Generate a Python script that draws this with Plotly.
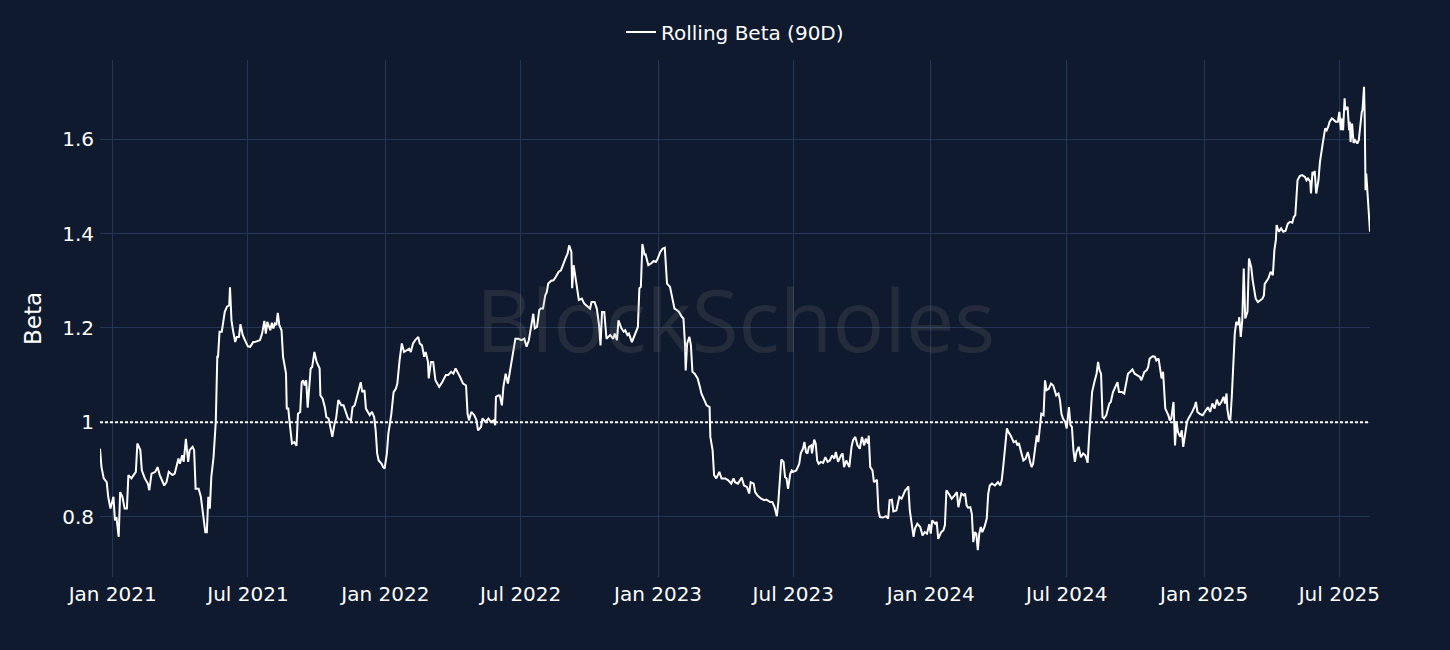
import datetime as dt
import plotly.graph_objects as go

# ---- data ----
start_date = dt.date(2020, 12, 15)

# days since start_date
day_offset = [
    # Dec 2020 - Jul 2021
    0, 2, 5, 9, 11, 14, 18, 20, 22, 25, 27, 30, 33, 36, 38, 42, 45, 48, 50, 54,
    56, 60, 64, 66, 69, 74, 77, 80, 86, 89, 92, 97, 100, 103, 105, 107, 110, 112, 115, 118,
    120, 124, 126, 128, 132, 135, 138, 141, 143, 145, 147, 149, 152, 155, 157, 158, 160, 163, 165, 167,
    170, 173, 174, 176, 178, 181, 183, 186, 188, 191, 194, 198, 201, 205,
    # Jul 2021 - Feb 2022
    207, 214, 217, 220, 222, 224, 228, 230, 232, 234, 236, 238, 240, 243, 245, 249, 250, 252, 254, 257,
    260, 263, 265, 268, 270, 272, 274, 276, 278, 280, 282, 284, 287, 290, 294, 295, 298, 301, 303, 306,
    309, 311, 314, 316, 319, 323, 326, 328, 332, 336, 338, 341, 344, 347, 349, 351, 354, 356, 359, 361,
    364, 367, 369, 371, 373, 377, 379, 381, 384, 386, 390, 393, 396, 398, 401, 404, 407, 411, 414, 416,
    419,
    # Feb 2022 - Sep 2022
    422, 426, 428, 431, 434, 436, 439, 440, 443, 446, 449, 454, 458, 463, 466, 470, 473, 476, 482, 486,
    490, 492, 494, 497, 501, 504, 506, 510, 512, 516, 520, 523, 527, 529, 530, 533, 535, 538, 540, 543,
    546, 549, 552, 556, 560, 564, 568, 571, 574, 577, 580, 582, 585, 588, 590, 593, 596, 598, 600, 604,
    607, 610, 614, 617, 620, 623, 626, 628, 631, 632, 634,
    # Sep 2022 - Apr 2023
    638, 641, 645, 648, 653, 656, 658, 662, 665, 668, 670, 672, 675, 678, 683, 687, 689, 692, 694, 696,
    698, 701, 703, 706, 708, 712, 715, 720, 722, 724, 726, 729, 730, 734, 738, 741, 744, 746, 750, 753,
    756, 759, 763, 766, 769, 772, 775, 779, 781, 783, 784, 786, 789, 791, 793, 796, 800, 803, 805, 809,
    812, 816, 817, 820, 822, 825, 829, 832, 837, 841, 845, 848,
    # Apr 2023 - Nov 2023
    850, 854, 857, 859, 862, 866, 869, 871, 875, 877, 880, 885, 889, 892, 897, 900, 903, 906, 908, 910,
    912, 915, 917, 919, 921, 924, 926, 928, 932, 936, 938, 941, 943, 945, 947, 949, 952, 953, 956, 958,
    960, 962, 965, 968, 971, 974, 977, 980, 983, 985, 988, 992, 994, 996, 999, 1003, 1006, 1008, 1011, 1014,
    1017, 1020, 1023, 1025, 1028, 1029, 1031, 1034, 1036, 1040, 1042, 1044, 1048, 1052, 1055, 1057, 1060, 1062,
    # Nov 2023 - Jun 2024
    1066, 1070, 1073, 1075, 1078, 1080, 1082, 1084, 1086, 1089, 1091, 1094, 1098, 1101, 1104, 1107, 1110, 1112, 1114, 1118,
    1120, 1122, 1126, 1129, 1131, 1133, 1136, 1140, 1144, 1147, 1149, 1151, 1153, 1156, 1158, 1160, 1162, 1165, 1167, 1169,
    1171, 1173, 1175, 1177, 1179, 1181, 1184, 1187, 1189, 1191, 1194, 1198, 1202, 1205, 1207, 1209, 1211, 1214, 1216, 1219,
    1223, 1226, 1228, 1230, 1233, 1236, 1239, 1242, 1245, 1247, 1249, 1252, 1254, 1256, 1258, 1260, 1263, 1265, 1267, 1270,
    1273, 1276,
    # Jun 2024 - Dec 2024
    1280, 1283, 1285, 1287, 1289, 1292, 1294, 1297, 1299, 1301, 1303, 1305, 1307, 1310, 1313, 1316, 1319, 1322, 1324, 1326,
    1328, 1331, 1333, 1334, 1336, 1338, 1340, 1342, 1344, 1347, 1351, 1353, 1356, 1359, 1362, 1364, 1368, 1371, 1373, 1376,
    1379, 1382, 1385, 1389, 1392, 1394, 1398, 1401, 1403, 1405, 1409, 1412, 1414, 1417, 1419, 1421, 1423, 1426, 1428, 1430,
    1432, 1434, 1437, 1439, 1441, 1443, 1446, 1448, 1450, 1452, 1455, 1457, 1460, 1462, 1465, 1467, 1469, 1472, 1476,
    # Jan 2025 - Aug 2025
    1483, 1486, 1489, 1492, 1495, 1498, 1501, 1504, 1506, 1508, 1509, 1511, 1513, 1515, 1517, 1519, 1521, 1524, 1525, 1527,
    1529, 1531, 1533, 1535, 1536, 1538, 1541, 1543, 1545, 1547, 1550, 1553, 1556, 1558, 1559, 1564, 1567, 1570, 1572, 1574,
    1575, 1578, 1581, 1584, 1587, 1590, 1593, 1596, 1598, 1600, 1603, 1606, 1609, 1613, 1615, 1617, 1620, 1621, 1623, 1625,
    1626, 1628, 1631, 1633, 1635, 1637, 1640, 1642, 1644, 1646, 1649, 1651, 1654, 1657, 1659, 1661, 1662, 1664, 1666, 1667,
    1670, 1672, 1673, 1674, 1676, 1678, 1680, 1683, 1685, 1687, 1689, 1690, 1692, 1693, 1694, 1695, 1697, 1699, 1700,
]

beta = [
    # Dec 2020 - Jul 2021
    0.944, 0.905, 0.881, 0.873, 0.842, 0.817, 0.842, 0.792, 0.799, 0.757, 0.852, 0.842, 0.817, 0.817, 0.888, 0.881, 0.888, 0.895, 0.955, 0.941,
    0.898, 0.881, 0.870, 0.856, 0.891, 0.895, 0.905, 0.888, 0.866, 0.873, 0.895, 0.888, 0.891, 0.912, 0.923, 0.912, 0.930, 0.916, 0.965, 0.916,
    0.941, 0.948, 0.941, 0.859, 0.859, 0.842, 0.799, 0.767, 0.767, 0.842, 0.817, 0.884, 0.926, 1.001, 1.139, 1.139, 1.192, 1.192, 1.213, 1.234,
    1.245, 1.248, 1.286, 1.216, 1.195, 1.170, 1.181, 1.181, 1.208, 1.185, 1.174, 1.161, 1.160, 1.170,
    # Jul 2021 - Feb 2022
    1.170, 1.174, 1.188, 1.215, 1.188, 1.213, 1.195, 1.211, 1.199, 1.209, 1.206, 1.232, 1.206, 1.195, 1.139, 1.103, 1.029, 1.029, 0.997, 0.955,
    0.958, 0.950, 1.018, 1.022, 1.085, 1.089, 1.078, 1.089, 1.031, 1.082, 1.114, 1.117, 1.149, 1.128, 1.114, 1.057, 1.050, 1.032, 1.011, 1.008,
    0.987, 0.969, 0.997, 1.008, 1.047, 1.036, 1.036, 1.025, 1.008, 1.004, 1.032, 1.036, 1.054, 1.068, 1.085, 1.064, 1.068, 1.029, 1.022, 1.015,
    1.022, 1.011, 0.983, 0.934, 0.919, 0.912, 0.905, 0.902, 0.934, 0.976, 1.018, 1.064, 1.071, 1.082, 1.131, 1.167, 1.149, 1.153, 1.156, 1.149,
    1.167,
    # Feb 2022 - Sep 2022
    1.174, 1.181, 1.167, 1.163, 1.139, 1.149, 1.128, 1.093, 1.128, 1.128, 1.089, 1.075, 1.085, 1.100, 1.100, 1.107, 1.103, 1.114, 1.096, 1.082,
    1.078, 1.018, 1.004, 1.022, 1.015, 1.004, 0.983, 0.990, 1.008, 1.001, 1.008, 1.001, 1.004, 0.994, 1.054, 1.057, 1.057, 1.036, 1.075, 1.103,
    1.082, 1.110, 1.146, 1.177, 1.177, 1.174, 1.177, 1.160, 1.174, 1.199, 1.230, 1.199, 1.202, 1.238, 1.241, 1.241, 1.269, 1.276, 1.294, 1.300,
    1.301, 1.308, 1.319, 1.322, 1.337, 1.347, 1.358, 1.375, 1.361, 1.284, 1.333,
    # Sep 2022 - Apr 2023
    1.294, 1.259, 1.262, 1.252, 1.245, 1.241, 1.255, 1.255, 1.241, 1.206, 1.163, 1.234, 1.234, 1.177, 1.185, 1.177, 1.188, 1.174, 1.216, 1.206,
    1.199, 1.192, 1.195, 1.185, 1.188, 1.170, 1.181, 1.202, 1.284, 1.287, 1.378, 1.354, 1.358, 1.333, 1.337, 1.342, 1.340, 1.345, 1.361, 1.368,
    1.370, 1.294, 1.287, 1.262, 1.241, 1.238, 1.234, 1.223, 1.220, 1.167, 1.110, 1.167, 1.181, 1.163, 1.107, 1.103, 1.093, 1.075, 1.061, 1.047,
    1.036, 1.032, 0.969, 0.941, 0.888, 0.881, 0.895, 0.881, 0.881, 0.877, 0.870, 0.881,
    # Apr 2023 - Nov 2023
    0.873, 0.870, 0.877, 0.883, 0.866, 0.863, 0.849, 0.873, 0.870, 0.852, 0.845, 0.838, 0.835, 0.836, 0.831, 0.831, 0.820, 0.801, 0.831, 0.877,
    0.921, 0.916, 0.884, 0.881, 0.859, 0.891, 0.898, 0.895, 0.898, 0.912, 0.934, 0.944, 0.958, 0.937, 0.934, 0.948, 0.951, 0.934, 0.963, 0.955,
    0.919, 0.912, 0.916, 0.914, 0.926, 0.916, 0.919, 0.930, 0.923, 0.937, 0.916, 0.930, 0.934, 0.905, 0.919, 0.905, 0.948, 0.962, 0.969, 0.951,
    0.944, 0.969, 0.951, 0.965, 0.955, 0.972, 0.905, 0.898, 0.873, 0.878, 0.813, 0.799, 0.798, 0.801, 0.796, 0.835, 0.836, 0.811,
    # Nov 2023 - Jun 2024
    0.813, 0.842, 0.838, 0.845, 0.856, 0.859, 0.864, 0.813, 0.785, 0.757, 0.775, 0.785, 0.778, 0.760, 0.767, 0.764, 0.784, 0.764, 0.792, 0.785,
    0.789, 0.753, 0.767, 0.771, 0.782, 0.856, 0.849, 0.838, 0.845, 0.852, 0.820, 0.835, 0.849, 0.845, 0.849, 0.824, 0.819, 0.820, 0.806, 0.746,
    0.767, 0.764, 0.729, 0.764, 0.778, 0.767, 0.778, 0.796, 0.849, 0.866, 0.870, 0.866, 0.873, 0.866, 0.877, 0.905, 0.941, 0.987, 0.979, 0.972,
    0.958, 0.960, 0.951, 0.956, 0.937, 0.919, 0.923, 0.937, 0.916, 0.905, 0.912, 0.955, 0.972, 0.958, 0.983, 1.018, 1.015, 1.089, 1.068, 1.071,
    1.082, 1.078,
    # Jun 2024 - Dec 2024
    1.057, 1.061, 1.047, 1.018, 1.008, 1.001, 0.987, 1.032, 0.994, 0.990, 0.941, 0.916, 0.937, 0.948, 0.926, 0.934, 0.930, 0.914, 0.969, 1.025,
    1.064, 1.085, 1.096, 1.103, 1.128, 1.110, 1.103, 1.011, 1.008, 1.015, 1.040, 1.043, 1.064, 1.075, 1.085, 1.064, 1.064, 1.061, 1.082, 1.103,
    1.107, 1.112, 1.103, 1.100, 1.096, 1.089, 1.107, 1.110, 1.117, 1.135, 1.140, 1.139, 1.131, 1.135, 1.114, 1.093, 1.107, 1.029, 1.022, 1.015,
    1.004, 1.008, 1.043, 0.951, 1.001, 0.979, 0.969, 0.983, 0.948, 0.972, 1.001, 1.008, 1.015, 1.022, 1.032, 1.043, 1.022, 1.018, 1.015,
    # Jan 2025 - Aug 2025
    1.032, 1.022, 1.040, 1.029, 1.048, 1.036, 1.043, 1.054, 1.040, 1.061, 1.029, 1.008, 1.004, 1.054, 1.139, 1.188, 1.213, 1.206, 1.223, 1.181,
    1.216, 1.326, 1.220, 1.230, 1.234, 1.347, 1.329, 1.301, 1.284, 1.262, 1.255, 1.259, 1.262, 1.269, 1.293, 1.305, 1.319, 1.312, 1.365, 1.386,
    1.418, 1.404, 1.411, 1.404, 1.406, 1.421, 1.425, 1.423, 1.435, 1.439, 1.513, 1.522, 1.524, 1.520, 1.513, 1.517, 1.510, 1.485, 1.531, 1.524,
    1.533, 1.485, 1.513, 1.552, 1.577, 1.594, 1.623, 1.619, 1.626, 1.637, 1.644, 1.642, 1.637, 1.637, 1.658, 1.619, 1.644, 1.619, 1.687, 1.662,
    1.669, 1.619, 1.637, 1.594, 1.633, 1.592, 1.598, 1.591, 1.598, 1.633, 1.658, 1.662, 1.711, 1.641, 1.492, 1.527, 1.485, 1.443, 1.404,
]

reference_level = 1.0
series_name = "Rolling Beta (90D)"
y_title = "Beta"
watermark = "BlockScholes"

assert len(day_offset) == len(beta), (len(day_offset), len(beta))
dates = [start_date + dt.timedelta(days=d) for d in day_offset]

BG = "#101a2e"
GRID = "#243658"
FONT = "Verdana, DejaVu Sans, sans-serif"

fig = go.Figure()
fig.add_trace(go.Scatter(
    x=dates, y=beta, mode="lines", name=series_name,
    line=dict(color="white", width=2),
))

# dotted reference line at beta = 1
fig.add_shape(
    type="line", xref="paper", x0=0, x1=1, yref="y",
    y0=reference_level, y1=reference_level,
    line=dict(color="white", width=2, dash="3px,2px"),
)

# watermark
fig.add_annotation(
    text=watermark, xref="paper", yref="paper", x=0.5, y=0.5,
    showarrow=False,
    font=dict(family="Open Sans", size=86, color="rgba(128,128,128,0.18)"),
)

fig.update_layout(
    width=1450, height=650,
    paper_bgcolor=BG, plot_bgcolor=BG,
    font=dict(family=FONT, color="white", size=20),
    margin=dict(l=100, r=80, t=60, b=73),
    showlegend=True,
    legend=dict(
        orientation="h", x=0.5, xanchor="center", y=1.054, yanchor="middle",
        font=dict(size=20, color="white"), bgcolor="rgba(0,0,0,0)",
    ),
    xaxis=dict(
        type="date", dtick="M6", tick0="2021-01-01", tickformat="%b %Y",
        showgrid=True, gridcolor=GRID, gridwidth=1,
        zeroline=False, showline=False, ticks="",
        tickfont=dict(size=20, color="white"), ticklabelstandoff=3,
    ),
    yaxis=dict(
        range=[0.672, 1.768], dtick=0.2, tick0=0,
        showgrid=True, gridcolor=GRID, gridwidth=1,
        zeroline=False, showline=False, ticks="",
        tickfont=dict(size=20, color="white"), ticklabelstandoff=5,
        title=dict(text=y_title, font=dict(size=23, color="white"), standoff=14),
    ),
    hovermode="x unified",
)

fig.write_html(
    "out.html",
    config={"displayModeBar": False},
    post_script="document.body.style.margin='0';",
)
